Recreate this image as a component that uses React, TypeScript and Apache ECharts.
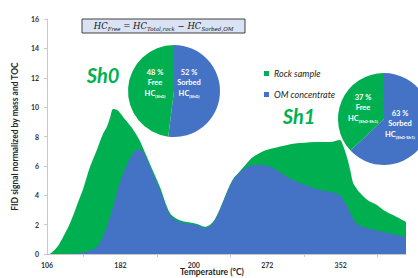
import React, { useEffect, useRef } from "react";
import * as echarts from "echarts";

// x positions in axis-tick units (label "106" at 0, "182" at 2, ...)
const xPos = [0.08, 0.22, 0.35, 0.63, 0.9, 0.98, 1.17, 1.36, 1.53, 1.63, 1.72, 1.8, 1.91, 1.99, 2.18, 2.34, 2.51, 2.62, 2.81, 3.08, 3.35, 3.62, 4.09, 4.31, 4.52, 4.71, 4.9, 5.07, 5.26, 5.45, 5.61, 5.89, 6.16, 6.54, 6.89, 7.44, 7.71, 7.98, 8.07, 8.17, 8.26, 8.34, 8.45, 8.53, 8.72, 8.99, 9.16, 9.43, 9.78];
const rockSample = [0, 0.3, 0.75, 2.11, 3.88, 4.4, 5.92, 7.1, 8.2, 8.65, 9.3, 9.87, 9.8, 9.6, 9.0, 8.5, 7.8, 7.2, 6.1, 4.55, 2.8, 2.3, 2.05, 1.85, 2.18, 3.07, 4.22, 5.1, 5.65, 6.19, 6.6, 7.0, 7.2, 7.42, 7.55, 7.62, 7.62, 7.76, 7.35, 6.6, 5.72, 4.83, 4.4, 4.15, 3.7, 3.34, 3.0, 2.65, 2.18];
const omConcentrate = [0, 0, 0, 0, 0.06, 0.1, 0.22, 0.48, 1.2, 1.85, 2.52, 3.2, 4.2, 4.9, 6.1, 6.85, 7.15, 6.94, 5.92, 4.36, 2.65, 2.18, 1.97, 1.77, 2.11, 3.0, 4.15, 5.04, 5.58, 5.92, 6.06, 6.06, 5.85, 5.24, 4.83, 4.36, 4.22, 4.02, 3.68, 3.3, 2.79, 2.4, 2.05, 1.92, 1.77, 1.6, 1.5, 1.35, 1.16];

const xLabelPos = [0, 2, 4, 6, 8];
const xTickLabels = ["106", "182", "200", "272", "352"];
const xTickPos = [1, 3, 5, 7, 9];

const sh0Split = [48, 52]; // free, sorbed (%)
const sh1Split = [37, 63];

const GREEN = "#00b050";
const BLUE = "#4472c4";
const FONT = "Lato, 'Open Sans', sans-serif";

export default function App() {
  const ref = useRef<HTMLDivElement>(null);
  useEffect(() => {
    if (!ref.current) return;
    const chart = echarts.init(ref.current, null, { renderer: "svg" });
    const pieLabel = (x: number, y: number, pct: number, kind: string, sub: string) => ({
      type: "text",
      x,
      y,
      z: 100,
      style: {
        text: `{b|${pct} %}\n{b|${kind}}\n{b|HC}{s|${sub}}`,
        align: "center",
        verticalAlign: "top",
        fill: "#fff",
        rich: {
          b: { fontFamily: FONT, fontWeight: "bold", fontSize: 7.5, lineHeight: 10.5, fill: "#fff", color: "#fff" },
          s: { fontFamily: FONT, fontWeight: "bold", fontSize: 4.5, lineHeight: 6, verticalAlign: "bottom", fill: "#fff", color: "#fff" },
        },
      },
    });
    chart.setOption({
      animation: false,
      grid: { left: 47, right: 12, top: 19, bottom: 24, containLabel: false },
      legend: {
        data: ["Rock sample", "OM concentrate"],
        orient: "vertical",
        left: 259,
        top: 64,
        itemWidth: 5,
        itemHeight: 5,
        itemGap: 12,
        icon: "rect",
        textStyle: { fontFamily: FONT, fontStyle: "italic", fontSize: 9, color: "#262626" },
      },
      xAxis: {
        type: "value",
        min: 0,
        max: 9.78,
        axisLine: { lineStyle: { color: "#c8c8c8", width: 1 } },
        axisTick: { show: true, customValues: xTickPos, length: 3, lineStyle: { color: "#c8c8c8" } },
        axisLabel: {
          customValues: xLabelPos,
          formatter: (v: number) => xTickLabels[xLabelPos.indexOf(Math.round(v))] ?? "",
          margin: 7,
          fontFamily: FONT,
          fontWeight: "bold",
          fontSize: 7,
          color: "#333",
        },
        splitLine: { show: false },
      },
      yAxis: {
        type: "value",
        min: 0,
        max: 16,
        interval: 2,
        name: "FID signal normalized by mass and TOC",
        nameLocation: "middle",
        nameGap: 20,
        nameTextStyle: { fontFamily: FONT, fontWeight: "bold", fontSize: 8.5, color: "#262626" },
        axisLine: { show: true, lineStyle: { color: "#c8c8c8", width: 1 } },
        axisTick: { show: true, length: 3, lineStyle: { color: "#c8c8c8" } },
        axisLabel: { margin: 8, fontFamily: FONT, fontWeight: "bold", fontSize: 7, color: "#333" },
        splitLine: { show: false },
      },
      series: [
        {
          name: "Rock sample",
          type: "line",
          data: xPos.map((x, i) => [x, rockSample[i]]),
          smooth: 0.3,
          showSymbol: false,
          lineStyle: { width: 0 },
          itemStyle: { color: GREEN },
          areaStyle: { color: GREEN, opacity: 1 },
          z: 2,
        },
        {
          name: "OM concentrate",
          type: "line",
          data: xPos.map((x, i) => [x, omConcentrate[i]]),
          smooth: 0.3,
          showSymbol: false,
          lineStyle: { width: 0 },
          itemStyle: { color: BLUE },
          areaStyle: { color: BLUE, opacity: 1 },
          z: 3,
        },
        {
          name: "Sh0 pie",
          type: "pie",
          center: [174, 91],
          radius: 46,
          startAngle: 90,
          clockwise: true,
          silent: true,
          label: { show: false },
          labelLine: { show: false },
          z: 5,
          data: [
            { name: "Sorbed HC (Sh0)", value: sh0Split[1], itemStyle: { color: BLUE } },
            { name: "Free HC (Sh0)", value: sh0Split[0], itemStyle: { color: GREEN } },
          ],
        },
        {
          name: "Sh1 pie",
          type: "pie",
          center: [384, 119],
          radius: 46,
          startAngle: 90,
          clockwise: true,
          silent: true,
          label: { show: false },
          labelLine: { show: false },
          z: 5,
          data: [
            { name: "Sorbed HC (Sh0-Sh1)", value: sh1Split[1], itemStyle: { color: BLUE } },
            { name: "Free HC (Sh0-Sh1)", value: sh1Split[0], itemStyle: { color: GREEN } },
          ],
        },
      ],
      graphic: [
        {
          type: "rect",
          shape: { x: 82, y: 19, width: 163, height: 14 },
          style: { fill: "#dae3f3", stroke: "#404040", lineWidth: 1 },
          z: 100,
        },
        {
          type: "text",
          x: 163.5,
          y: 26,
          z: 101,
          style: {
            text: "{m|HC}{s|Free}{m| = HC}{s|Total,rock}{m| − HC}{s|Sorbed,OM}",
            align: "center",
            verticalAlign: "middle",
            rich: {
              m: { fontFamily: "'DejaVu Serif', serif", fontStyle: "italic", fontSize: 8.5, lineHeight: 12, fill: "#111", color: "#111" },
              s: { fontFamily: "'DejaVu Serif', serif", fontStyle: "italic", fontSize: 5.5, lineHeight: 6, verticalAlign: "bottom", fill: "#111", color: "#111" },
            },
          },
        },
        {
          type: "text",
          x: 103,
          y: 75,
          z: 100,
          style: { text: "Sh0", align: "center", verticalAlign: "middle", fontFamily: FONT, fontStyle: "italic", fontWeight: "bold", fontSize: 20, fill: GREEN },
        },
        {
          type: "text",
          x: 299,
          y: 116,
          z: 100,
          style: { text: "Sh1", align: "center", verticalAlign: "middle", fontFamily: FONT, fontStyle: "italic", fontWeight: "bold", fontSize: 20, fill: GREEN },
        },
        pieLabel(155, 67, sh0Split[0], "Free", "(Sh0)"),
        pieLabel(189, 67, sh0Split[1], "Sorbed", "(Sh0)"),
        pieLabel(363, 92, sh1Split[0], "Free", "(Sh0-Sh1)"),
        pieLabel(400, 108, sh1Split[1], "Sorbed", "(Sh0-Sh1)"),
        {
          type: "text",
          x: 212,
          y: 272,
          z: 100,
          style: { text: "Temperature (°C)", align: "center", verticalAlign: "middle", fontFamily: FONT, fontWeight: "bold", fontSize: 8.5, fill: "#262626" },
        },
      ],
    });
    return () => chart.dispose();
  }, []);
  return <div ref={ref} style={{ width: 418, height: 278, position: "absolute", left: 0, top: 0 }} />;
}
